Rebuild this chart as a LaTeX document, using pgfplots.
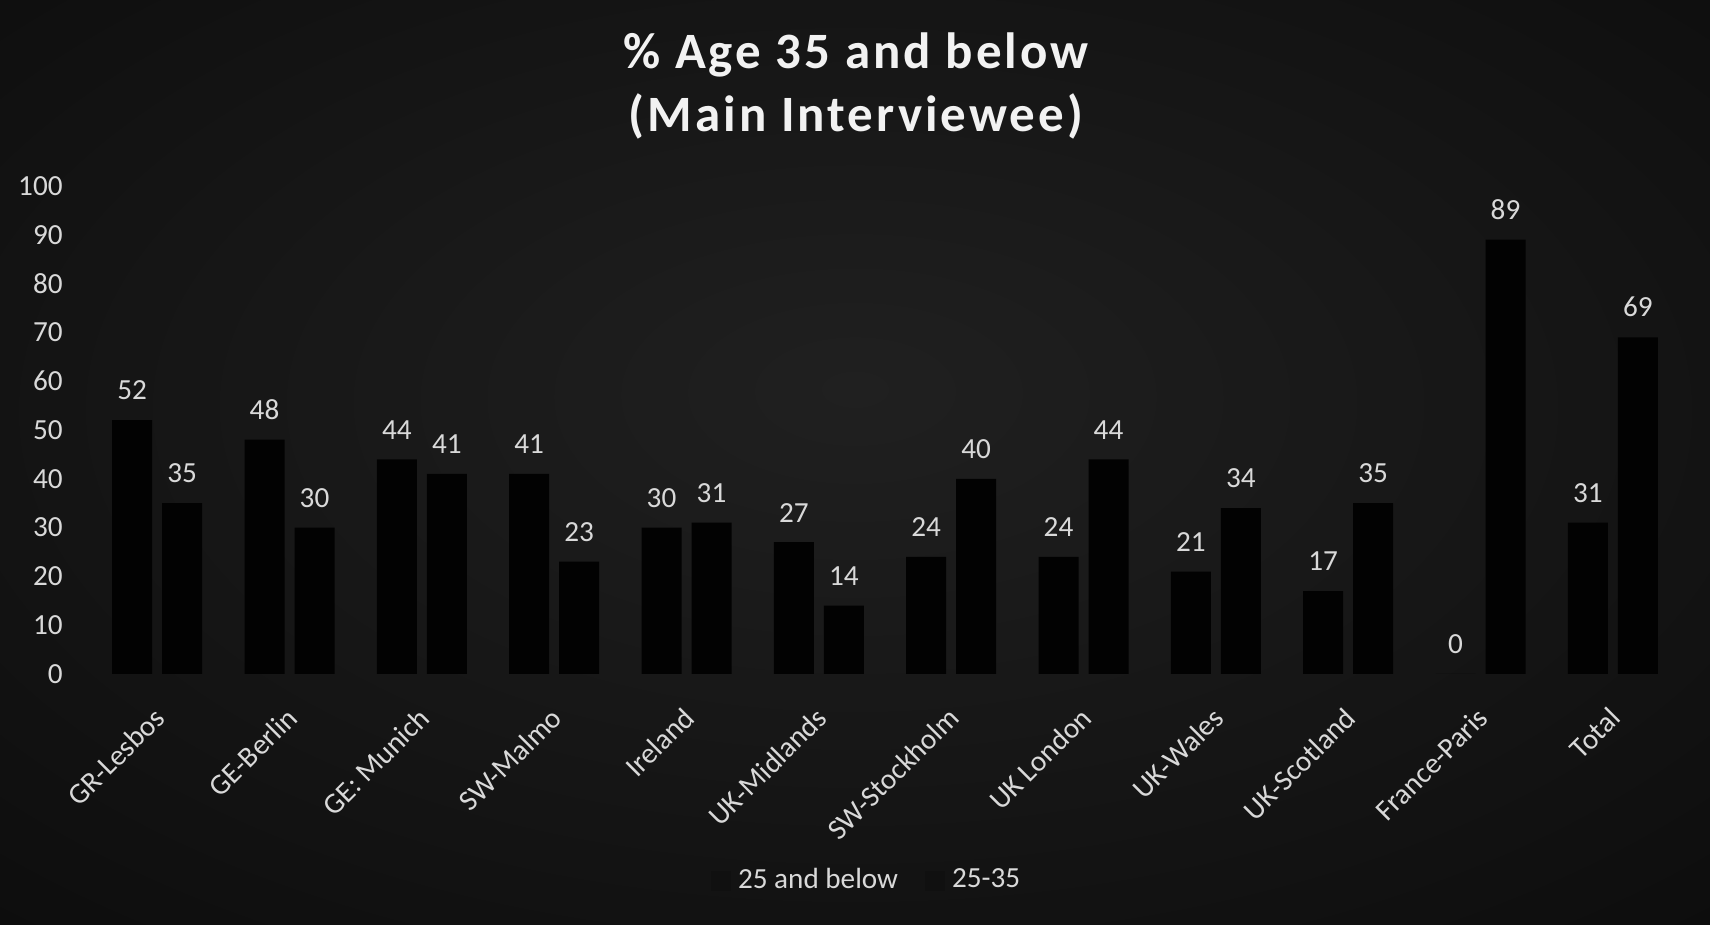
\documentclass[border=0pt]{standalone}
\usepackage{pgfplots}
\pgfplotsset{compat=1.18}
\usepackage{fontspec}
\setmainfont{Carlito}
\newfontfamily\titlefont[LetterSpace=6]{Carlito}

\definecolor{bgin}{RGB}{32,32,32}
\definecolor{bgout}{RGB}{9,9,9}
\definecolor{lbl}{RGB}{217,217,217}
\definecolor{barc}{RGB}{2,2,2}
\definecolor{legc}{RGB}{16,16,16}

\pgfdeclareradialshading{bgshade}{\pgfpoint{0bp}{4bp}}{color(0bp)=(bgin); color(45bp)=(bgout); color(80bp)=(bgout)}

\begin{document}
\begin{tikzpicture}
\shade[shading=bgshade] (0,0) rectangle (17.1,9.25);
\node[text=white!95!black, font=\titlefont\bfseries\fontsize{14.5}{18}\selectfont, align=center]
  at (8.56,8.39) {\% Age 35 and below\\(Main Interviewee)};
\begin{axis}[
    at={(0.91cm,2.51cm)}, anchor=south west,
    scale only axis,
    width=15.88cm, height=4.88cm,
    ybar=1mm, bar width=4mm,
    xmin=-0.5, xmax=11.5,
    ymin=0, ymax=100,
    xtick=data,
    xticklabels={GR-Lesbos,GE-Berlin,GE: Munich,SW-Malmo,Ireland,UK-Midlands,SW-Stockholm,UK London,UK-Wales,UK-Scotland,France-Paris,Total},
    ytick={0,10,...,100},
    axis line style={draw=none},
    tick style={draw=none},
    font=\fontsize{8.3}{10}\selectfont,
    ticklabel style={text=lbl},
    /pgf/number format/assume math mode=true,
    xticklabel style={rotate=45, anchor=north east, xshift=-0.3mm, yshift=0.4mm},
    yticklabel style={xshift=-1.6mm},
    nodes near coords,
    every node near coord/.append style={text=lbl, yshift=2.2pt},
    legend columns=2,
    legend style={at={(0.49,-0.424)}, anchor=center, draw=none, fill=none,
        text=lbl, /tikz/every even column/.append style={column sep=2mm}},
    legend image code/.code={\fill[legc] (0cm,-0.1cm) rectangle (0.2cm,0.1cm);},
]
\addplot[fill=barc, draw=none] coordinates {(0,52) (1,48) (2,44) (3,41) (4,30) (5,27) (6,24) (7,24) (8,21) (9,17) (10,0) (11,31)};
\addlegendentry{25 and below}
\addplot[fill=barc, draw=none] coordinates {(0,35) (1,30) (2,41) (3,23) (4,31) (5,14) (6,40) (7,44) (8,34) (9,35) (10,89) (11,69)};
\addlegendentry{25-35}
\end{axis}
\pgfresetboundingbox
\useasboundingbox (0,0) rectangle (17.1,9.25);
\end{tikzpicture}
\end{document}
